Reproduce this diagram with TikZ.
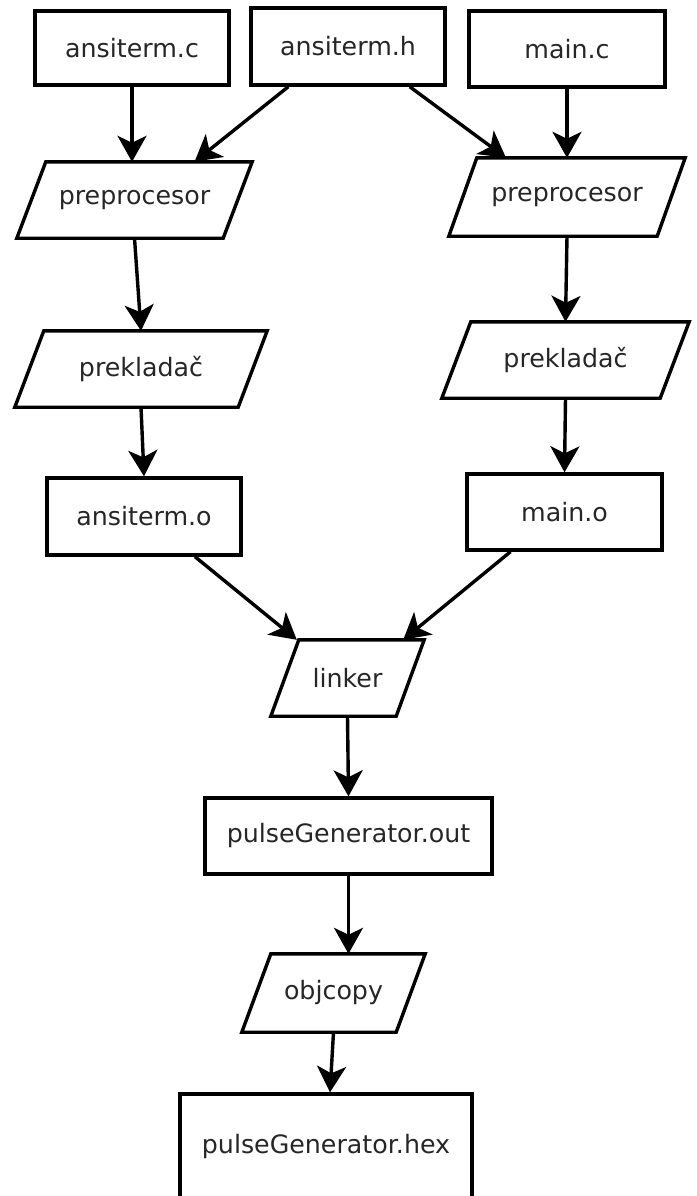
\documentclass[tikz,border=0pt]{standalone}
\usepackage{fontspec}
\setmainfont{DejaVu Sans}
\usetikzlibrary{arrows.meta,calc}

\tikzset{
  every node/.style={font=\fontsize{25.3}{30}\selectfont, text=black!85},
  filebox/.style={draw=black, line width=3.4pt, rectangle, inner sep=0pt},
  toolbox/.style={rectangle, inner sep=0pt},
  toolshape/.style={draw=black, line width=3.4pt, line join=miter},
  arr/.style={draw=black, line width=3.4pt, -{Stealth[length=26pt, width=29pt, inset=7pt]}},
}

% parallelogram drawn over an invisible rectangle node: #1 = node, #2 = slant
\newcommand{\slantbox}[2]{%
  \draw[toolshape] ([xshift=#2]#1.north west) -- (#1.north east)
    -- ([xshift=-#2]#1.south east) -- (#1.south west) -- cycle;}

\begin{document}
\begin{tikzpicture}[x=1pt, y=-1pt]
  \useasboundingbox (0,0) rectangle (696,1196);

  % source files
  \node[filebox, minimum width=194pt, minimum height=74pt] (srcC) at (132,48) {ansiterm.c};
  \node[filebox, minimum width=194pt, minimum height=77pt] (hdr) at (348,46.5) {ansiterm.h};
  \node[filebox, minimum width=196pt, minimum height=76pt] (mainC) at (567,49) {main.c};

  % preprocessor stage
  \node[toolbox, minimum width=235pt, minimum height=76pt] (ppL) at (134.5,200) {preprocesor};
  \slantbox{ppL}{29pt}
  \node[toolbox, minimum width=236pt, minimum height=78pt] (ppR) at (567,197) {preprocesor};
  \slantbox{ppR}{28pt}

  % compiler stage
  \node[toolbox, minimum width=252pt, minimum height=76pt] (pkL) at (141,369) {prekladač};
  \slantbox{pkL}{29pt}
  \node[toolbox, minimum width=247pt, minimum height=76pt] (pkR) at (565.5,360) {prekladač};
  \slantbox{pkR}{29pt}

  % object files
  \node[filebox, minimum width=194pt, minimum height=77pt] (objL) at (144,516.5) {ansiterm.o};
  \node[filebox, minimum width=195pt, minimum height=76pt] (objR) at (564.5,512) {main.o};

  % linker
  \node[toolbox, minimum width=153pt, minimum height=76pt] (lnk) at (347.5,678) {linker};
  \slantbox{lnk}{28pt}

  \node[filebox, minimum width=287pt, minimum height=76pt] (out) at (348.5,836) {pulseGenerator.out};

  % objcopy
  \node[toolbox, minimum width=183pt, minimum height=78pt] (ocp) at (333.5,993) {objcopy};
  \slantbox{ocp}{29pt}

  \node[filebox, minimum width=292pt, minimum height=106pt] (hex) at (326,1147) {pulseGenerator.hex};

  % connectors
  \draw[arr] (srcC.south) -- (srcC.south |- ppL.north);
  \draw[arr] ([xshift=39pt]hdr.south west) -- ([xshift=60pt]ppL.north);
  \draw[arr] ([xshift=-37pt]hdr.south east) -- ([xshift=-61pt]ppR.north);
  \draw[arr] (mainC.south) -- (ppR.north);
  \draw[arr] (ppL.south) -- (pkL.north);
  \draw[arr] (ppR.south) -- (pkR.north);
  \draw[arr] (pkL.south) -- (objL.north);
  \draw[arr] (pkR.south) -- (objR.north);
  \draw[arr] ([xshift=51pt]objL.south) -- ([xshift=26pt]lnk.north west);
  \draw[arr] ([xshift=-54pt]objR.south) -- ([xshift=-21pt]lnk.north east);
  \draw[arr] (lnk.south) -- (out.north);
  \draw[arr] (out.south) -- (out.south |- ocp.north);
  \draw[arr] (ocp.south) -- ([xshift=4pt]hex.north);
\end{tikzpicture}
\end{document}
